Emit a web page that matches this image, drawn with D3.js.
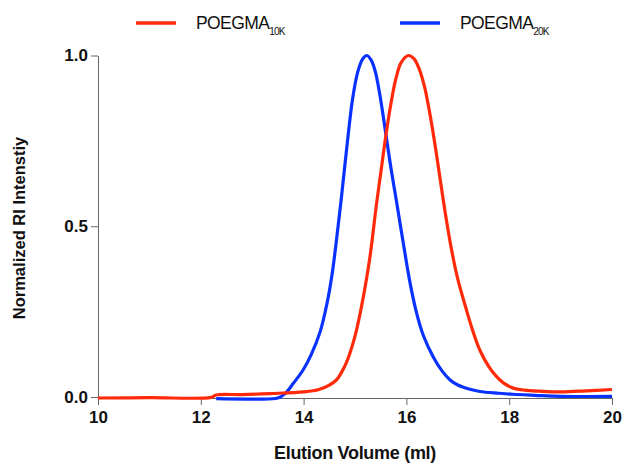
<!DOCTYPE html>
<html>
<head>
<meta charset="utf-8">
<script src="https://cdn.jsdelivr.net/npm/d3@7"></script>
<style>
  html, body { margin: 0; padding: 0; background: #fff; }
  svg { display: block; font-family: "Liberation Sans", Arial, Helvetica, sans-serif; }
</style>
</head>
<body>
<svg id="chart" width="623" height="464"></svg>
<script>
// ---- Data ----
const seriesNames = ["POEGMA", "POEGMA"];
const seriesSubs = ["10K", "20K"];
const seriesColors = ["#ff2a0a", "#0a32ff"];

const redX = [10.0, 11.0, 12.2, 12.3, 12.8, 13.35, 14.0, 14.3, 14.5, 14.64, 14.8, 14.9, 15.0, 15.1, 15.2, 15.29, 15.42, 15.5, 15.6, 15.7, 15.8, 15.9, 16.04, 16.15, 16.25, 16.35, 16.45, 16.55, 16.65, 16.75, 16.88, 17.0, 17.17, 17.3, 17.43, 17.6, 17.76, 17.9, 18.08, 18.3, 18.6, 19.0, 19.5, 20.0];
const redY = [-0.003, -0.002, -0.001, 0.006, 0.007, 0.010, 0.015, 0.022, 0.035, 0.050, 0.090, 0.128, 0.178, 0.245, 0.325, 0.409, 0.567, 0.655, 0.765, 0.860, 0.935, 0.980, 1.000, 0.990, 0.960, 0.910, 0.835, 0.745, 0.645, 0.545, 0.430, 0.345, 0.254, 0.190, 0.137, 0.090, 0.059, 0.040, 0.026, 0.020, 0.017, 0.015, 0.018, 0.022];

const blueX = [12.3, 13.0, 13.5, 13.64, 13.8, 13.99, 14.15, 14.32, 14.45, 14.55, 14.64, 14.74, 14.84, 14.95, 15.05, 15.15, 15.23, 15.32, 15.4, 15.5, 15.6, 15.7, 15.81, 15.94, 16.07, 16.2, 16.33, 16.52, 16.7, 16.85, 17.0, 17.2, 17.43, 17.8, 18.07, 18.5, 19.0, 20.0];
const blueY = [-0.005, -0.006, -0.003, 0.010, 0.040, 0.079, 0.125, 0.190, 0.270, 0.355, 0.460, 0.590, 0.730, 0.870, 0.950, 0.990, 1.000, 0.985, 0.950, 0.870, 0.770, 0.670, 0.570, 0.450, 0.335, 0.245, 0.180, 0.118, 0.075, 0.050, 0.035, 0.024, 0.016, 0.011, 0.008, 0.005, 0.002, 0.002];

const xTicks = [10, 12, 14, 16, 18, 20];
const yTicks = [0.0, 0.5, 1.0];
const xTitle = "Elution Volume (ml)";
const yTitle = "Normalized RI Intenstiy";

// ---- Layout ----
const svg = d3.select("#chart");
const margin = { left: 98, right: 11, top: 55.5, bottom: 67 };
const W = 623, H = 464;

const x = d3.scaleLinear().domain([10, 20]).range([margin.left, W - margin.right]);
const y = d3.scaleLinear().domain([0, 1]).range([H - margin.bottom, margin.top]);

const axisColor = "#666";

// X axis
const gx = svg.append("g")
  .attr("transform", `translate(0,${y(0) + 1})`)
  .call(d3.axisBottom(x).tickValues(xTicks).tickFormat(d3.format("d")).tickSize(7).tickSizeOuter(0));
gx.select(".domain").attr("stroke", axisColor);
gx.selectAll(".tick line").attr("stroke", axisColor);
gx.selectAll(".tick text")
  .attr("fill", "#111").attr("font-size", "17px").attr("font-weight", "bold")
  .attr("dy", "0.95em").attr("y", 9)
  .attr("font-family", "'Liberation Sans', Arial, sans-serif");

// Y axis
const gy = svg.append("g")
  .attr("transform", `translate(${margin.left},0)`)
  .call(d3.axisLeft(y).tickValues(yTicks).tickFormat(d3.format(".1f")).tickSize(7).tickSizeOuter(0));
gy.select(".domain").attr("stroke", axisColor);
gy.selectAll(".tick line").attr("stroke", axisColor);
gy.selectAll(".tick text")
  .attr("fill", "#111").attr("font-size", "17px").attr("font-weight", "bold")
  .attr("x", -10)
  .attr("font-family", "'Liberation Sans', Arial, sans-serif");

// Titles
svg.append("text")
  .attr("x", 355).attr("y", 459)
  .attr("text-anchor", "middle")
  .attr("font-size", "18px").attr("font-weight", "bold").attr("fill", "#111")
  .attr("letter-spacing", "-0.3")
  .text(xTitle);

svg.append("text")
  .attr("transform", "translate(25,228) rotate(-90)")
  .attr("text-anchor", "middle")
  .attr("font-size", "16.5px").attr("font-weight", "bold").attr("fill", "#111")
  .text(yTitle);

// Lines
const line = d3.line()
  .x(d => x(d[0])).y(d => y(d[1]))
  .curve(d3.curveCatmullRom.alpha(0.5));

const redData = redX.map((v, i) => [v, redY[i]]);
const blueData = blueX.map((v, i) => [v, blueY[i]]);

svg.append("path").datum(blueData)
  .attr("fill", "none").attr("stroke", seriesColors[1]).attr("stroke-width", 3.2)
  .attr("stroke-linejoin", "round").attr("d", line);
svg.append("path").datum(redData)
  .attr("fill", "none").attr("stroke", seriesColors[0]).attr("stroke-width", 3.2)
  .attr("stroke-linejoin", "round").attr("d", line);

// Legend
const legendItems = [
  { x0: 136, tx: 196 },
  { x0: 400, tx: 460 }
];
legendItems.forEach((it, i) => {
  const g = svg.append("g");
  g.append("line")
    .attr("x1", it.x0).attr("x2", it.x0 + 40)
    .attr("y1", 23).attr("y2", 23)
    .attr("stroke", seriesColors[i]).attr("stroke-width", 3.5);
  const t = g.append("text")
    .attr("x", it.tx).attr("y", 29)
    .attr("font-size", "17.5px").attr("fill", "#111")
    .attr("letter-spacing", "-0.6");
  t.append("tspan").text(seriesNames[i]);
  t.append("tspan").attr("font-size", "10px").attr("dy", 6).attr("letter-spacing", "-0.8").text(seriesSubs[i]);
});
</script>
</body>
</html>
